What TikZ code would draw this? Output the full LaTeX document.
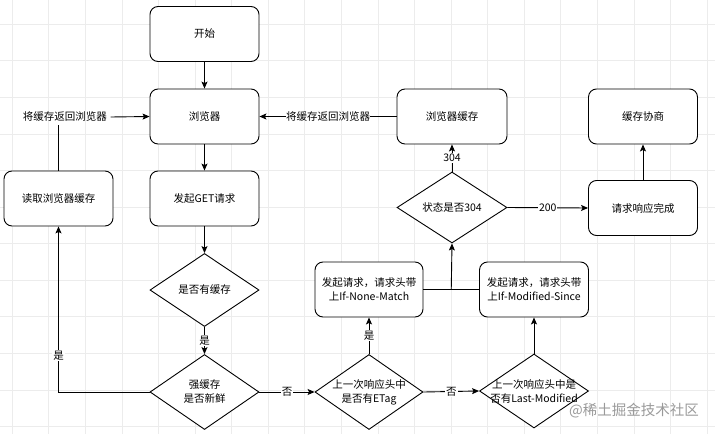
\documentclass[tikz,border=0pt]{standalone}
\usepackage{fontspec}
\setmainfont{Noto Sans CJK SC}
\usetikzlibrary{arrows.meta, positioning, shapes.geometric, calc}
\definecolor{gridgray}{HTML}{ECECEC}
\definecolor{markgray}{HTML}{9A9A9A}

\tikzset{
  flowbox/.style={draw, line width=0.9pt, rounded corners=8pt, minimum width=109pt, minimum height=55pt,
    align=center, font=\fontsize{10.5}{14}\selectfont, fill=white},
  judge/.style={draw, line width=0.9pt, diamond, inner sep=0pt, minimum width=109pt, minimum height=73pt, fill=white},
  judgetext/.style={align=center, font=\fontsize{10.5}{14}\selectfont},
  edgetext/.style={fill=white, inner sep=1pt, font=\fontsize{10.5}{12}\selectfont},
  flow/.style={line width=0.9pt, -{Stealth[length=7pt, width=6pt, inset=1.5pt]}},
  plain/.style={line width=0.9pt}
}

\begin{document}
\begin{tikzpicture}[x=1pt, y=-1pt]
  \useasboundingbox (0,0) rectangle (715,434);
  \fill[white] (0,0) rectangle (715,434);

  % Background grid
  \def\gstep{36.57}
  \foreach \i in {0,...,19} {
    \draw[gridgray, line width=0.8pt] (12.3+\i*\gstep, 0) -- (12.3+\i*\gstep, 434);
  }
  \foreach \j in {0,...,11} {
    \draw[gridgray, line width=0.8pt] (0, 24.3+\j*\gstep) -- (715, 24.3+\j*\gstep);
  }

  % Main column
  \node[flowbox] (start) at (204.5, 34) {开始};
  \node[flowbox] (browser) at (204.5, 116.5) {浏览器};
  \node[flowbox] (getreq) at (204.5, 198.5) {发起GET请求};
  \node[judge] (hascache) at (204.5, 290) {};
  \node[judgetext] at (hascache.center) {是否有缓存};
  \node[judge, minimum height=75pt] (fresh) at (204.5, 392) {};
  \node[judgetext] at (fresh.center) {强缓存\\是否新鲜};

  % Left column
  \node[flowbox] (readcache) at (58.5, 198.5) {读取浏览器缓存};
  \node[judgetext] (retleft) at (65, 117) {将缓存返回浏览器};

  % Negotiation part
  \node[judge, minimum width=108pt, minimum height=75pt] (etag) at (369, 392) {};
  \node[judgetext] at (etag.center) {上一次响应头中\\是否有ETag};
  \node[judge, minimum height=74pt] (lastmod) at (534, 391) {};
  \node[judgetext] at (lastmod.center) {上一次响应头中是\\否有Last-Modified};
  \node[flowbox, minimum width=108pt] (nonematch) at (369, 289.5) {发起请求，请求头带\\上If-None-Match};
  \node[flowbox] (modsince) at (534, 289.5) {发起请求，请求头带\\上If-Modified-Since};
  \node[judge, minimum width=110pt, minimum height=71pt] (status) at (452, 207.5) {};
  \node[judgetext] at (status.center) {状态是否304};
  \node[flowbox, minimum width=110pt] (browsercache) at (452, 116.5) {浏览器缓存};
  \node[flowbox] (done) at (643, 208) {请求响应完成};
  \node[flowbox] (negotiate) at (643, 116.5) {缓存协商};

  % Connectors
  \draw[flow] (start) -- (browser);
  \draw[flow] (browser) -- (getreq);
  \draw[flow] (getreq) -- (hascache);
  \draw[flow] (hascache) -- node[edgetext] {是} (fresh);
  \draw[flow] (fresh.west) -| node[edgetext, pos=0.61] {是} (readcache.south);
  \draw[plain] (readcache.north) -- (readcache.north |- retleft.south);
  \draw[flow] (retleft.east) -- (browser.west);
  \draw[flow] (fresh.east) -- node[edgetext] {否} (etag.west);
  \draw[flow] (etag.north) -- node[edgetext] {是} (nonematch.south);
  \draw[flow] (etag.east) -- node[edgetext] {否} (lastmod.west);
  \draw[flow] (lastmod.north) -- (modsince.south);
  \draw[plain] (nonematch.east) -- (modsince.west);
  \coordinate (join) at ($(nonematch.east)!0.5!(modsince.west)$);
  \draw[flow] (join) -- (status.south);
  \draw[flow] (status.north) -- node[edgetext] {304} (browsercache.south);
  \draw[flow] (status.east) -- node[edgetext] {200} (done.west);
  \draw[flow] (done) -- (negotiate);
  \draw[flow] (browsercache.west) -- node[edgetext, inner sep=0pt] {将缓存返回浏览器} (browser.east);

  % Watermark
  \node[markgray, font=\fontsize{14.5}{16}\selectfont] (mark) at (634, 411) {@稀土掘金技术社区};
\end{tikzpicture}
\end{document}
